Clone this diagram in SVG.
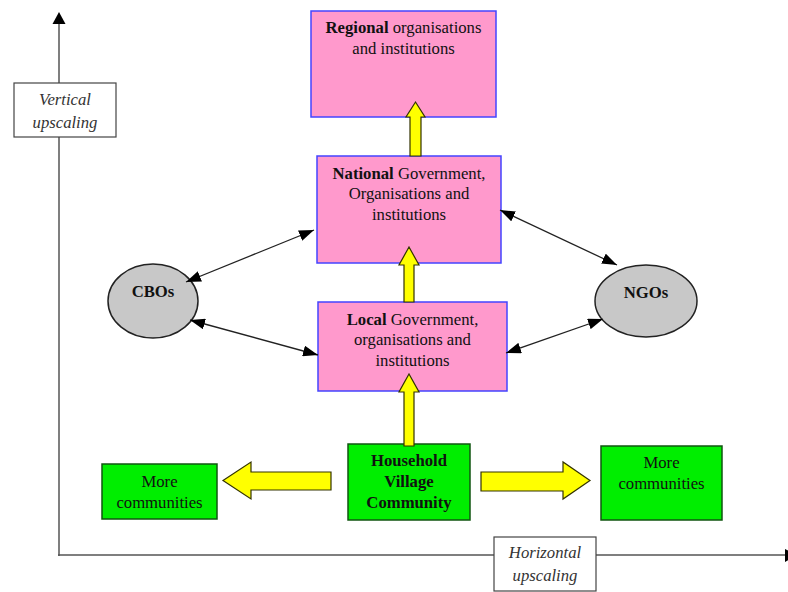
<svg xmlns="http://www.w3.org/2000/svg" width="788" height="592" viewBox="0 0 788 592">
<defs>
<style>
text{font-family:"Liberation Serif","Times New Roman",serif;font-size:16.7px;fill:#111;text-anchor:middle}
.b{font-weight:bold}
.i{font-style:italic;fill:#333}
.pink{fill:#ff99cc;stroke:#4444ff;stroke-width:1.5}
.green{fill:#00ee00;stroke:#115511;stroke-width:1.5}
.oval{fill:#c8c8c8;stroke:#222;stroke-width:1.5}
.label{fill:#fff;stroke:#444;stroke-width:1.2}
.ya{fill:#ffff00;stroke:#333300;stroke-width:1.2;stroke-linejoin:miter}
.axis{stroke:#555;stroke-width:1.5;fill:none}
.link{stroke:#222;stroke-width:1.3;fill:none;marker-start:url(#ah);marker-end:url(#ah)}
</style>
<marker id="ah" viewBox="0 0 15 11" refX="15" refY="5.5" markerWidth="15" markerHeight="11" markerUnits="userSpaceOnUse" orient="auto-start-reverse">
<path d="M0,0 L15,5.5 L0,11 z" fill="#000"/>
</marker>
</defs>

<g id="axes">
<line class="axis" x1="59" y1="556" x2="59" y2="22"/>
<path d="M59,12 L52.5,24 L65.5,24 z" fill="#000"/>
<line class="axis" x1="58" y1="555" x2="786" y2="555"/>
<path d="M785,549 L797,555 L785,562 z" fill="#000"/>
</g>

<g id="vertical-label">
<rect class="label" x="14" y="83" width="102" height="54"/>
<text class="i" x="65" y="105">Vertical</text>
<text class="i" x="65" y="128">upscaling</text>
</g>

<g id="horizontal-label">
<rect class="label" x="494" y="537" width="102" height="54"/>
<text class="i" x="545" y="558">Horizontal</text>
<text class="i" x="545" y="581">upscaling</text>
</g>

<g id="regional">
<rect class="pink" x="311" y="11" width="185" height="106"/>
<text x="403.5" y="33"><tspan class="b">Regional</tspan> organisations</text>
<text x="403.5" y="54">and institutions</text>
</g>

<g id="national">
<rect class="pink" x="317" y="156" width="184" height="107"/>
<text x="409" y="179"><tspan class="b">National</tspan> Government,</text>
<text x="409" y="199">Organisations and</text>
<text x="409" y="220">institutions</text>
</g>

<g id="local">
<rect class="pink" x="318" y="302" width="189" height="89"/>
<text x="412.5" y="325"><tspan class="b">Local</tspan> Government,</text>
<text x="412.5" y="345">organisations and</text>
<text x="412.5" y="366">institutions</text>
</g>

<g id="cbos">
<ellipse class="oval" cx="153" cy="301" rx="45" ry="37"/>
<text class="b" x="153" y="297">CBOs</text>
</g>

<g id="ngos">
<ellipse class="oval" cx="646" cy="301" rx="51" ry="36"/>
<text class="b" x="646" y="298">NGOs</text>
</g>

<g id="household">
<rect class="green" x="348" y="444" width="122" height="76"/>
<text class="b" x="409" y="466">Household</text>
<text class="b" x="409" y="487">Village</text>
<text class="b" x="409" y="508">Community</text>
</g>

<g id="more-left">
<rect class="green" x="102" y="464" width="115" height="55"/>
<text x="159.5" y="487">More</text>
<text x="159.5" y="508">communities</text>
</g>

<g id="more-right">
<rect class="green" x="601" y="446" width="121" height="74"/>
<text x="661.5" y="468">More</text>
<text x="661.5" y="489">communities</text>
</g>

<g id="connectors">
<path class="ya" d="M410,156 L410,117 L406,117 L415.5,102 L425,117 L421,117 L421,156 z"/>
<path class="ya" d="M404,302 L404,265 L399,265 L409,247 L419,265 L414,265 L414,302 z"/>
<path class="ya" d="M404,446 L404,392 L399,392 L409,374 L419,392 L414,392 L414,446 z"/>
<path class="ya" d="M331,472 L251,472 L251,462 L223,480.5 L251,499 L251,490 L331,490 z"/>
<path class="ya" d="M481,472 L563,472 L563,462 L590,480.5 L563,499 L563,491 L481,491 z"/>
<line class="link" x1="186" y1="282" x2="314" y2="230"/>
<line class="link" x1="190" y1="320" x2="318" y2="355"/>
<line class="link" x1="500" y1="210" x2="617" y2="265"/>
<line class="link" x1="506" y1="353" x2="603" y2="319"/>
</g>
</svg>
